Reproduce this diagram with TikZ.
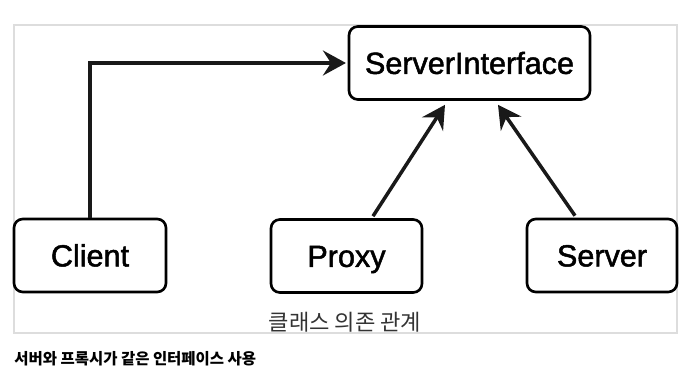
\documentclass[tikz,border=0pt]{standalone}
\usepackage{fontspec}
\setmainfont{Liberation Sans}
\newfontfamily\boxfont{Liberation Sans}[FakeBold=1.6]
\newfontfamily\krfont{Noto Sans CJK KR}
\usetikzlibrary{arrows.meta,positioning}
\definecolor{frame}{HTML}{DDDDDD}
\definecolor{ink2}{HTML}{333333}

\begin{document}
\begin{tikzpicture}[
  >={Stealth[length=4.6mm, width=5mm, inset=1.6mm]},
  box/.style={draw=black, rounded corners=5pt, align=center, minimum height=1.46cm, line width=1.5pt, fill=white, text height=12.4pt, text depth=0pt, font=\boxfont\fontsize{17.4}{20}\selectfont},
  arr/.style={->, draw=black!90, line width=2pt},
  note/.style={font=\krfont\fontsize{12.6}{15}\selectfont, text=ink2},
  caption/.style={font=\krfont\bfseries\fontsize{8.8}{10}\selectfont, inner sep=0pt}]
\useasboundingbox (0,0) rectangle (14,-7.48);
\node[draw=frame, line width=1pt, minimum width=13.26cm, minimum height=6.16cm] (panel) at (6.91,-3.58) {};
\node[box, minimum width=4.82cm] (si) at (9.39,-1.26) {ServerInterface};
\node[box, minimum width=3.04cm] (client) at (1.80,-5.11) {Client};
\node[box, minimum width=3.02cm] (proxy) at (6.93,-5.12) {Proxy};
\node[box, minimum width=3.00cm] (server) at (12.04,-5.11) {Server};
\node[note] (rel) at (6.90,-6.44) {클래스 의존 관계};
\node[caption, anchor=west] (cap) at (0.28,-7.18) {서버와 프록시가 같은 인터페이스 사용};
\draw[arr, shorten >=1pt] (client.north) |- (si.west);
\draw[arr] ([xshift=0.53cm, yshift=0.04cm]proxy.north) -- ([xshift=-0.49cm, yshift=-0.08cm]si.south);
\draw[arr] ([xshift=-0.54cm, yshift=0.04cm]server.north) -- ([xshift=0.57cm, yshift=-0.08cm]si.south);
\end{tikzpicture}
\end{document}
